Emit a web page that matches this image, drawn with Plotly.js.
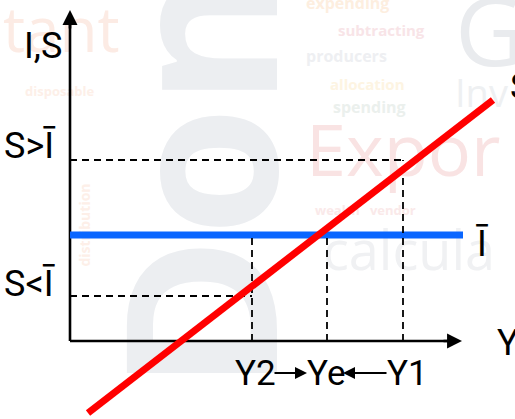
<!DOCTYPE html>
<html>
<head>
<meta charset="utf-8">
<script src="https://cdn.plot.ly/plotly-3.0.1.min.js"></script>
<style>
  html, body { margin: 0; padding: 0; background: #ffffff; }
  #chart { width: 515px; height: 419px; }
</style>
</head>
<body>
<div id="chart"></div>
<script>
// Saving–investment equilibrium: S = Ī determines equilibrium income Ye.

// Income levels marked on the horizontal axis
const incomeLabels = ['Y2', 'Ye', 'Y1'];
const incomeLevels = [182, 257, 333];

// Saving at the off-equilibrium incomes (Y2 -> S<Ī, Y1 -> S>Ī)
const savingLabels = ['S<Ī', 'S>Ī'];
const savingLevels = [45, 181];

// Autonomous investment Ī
const investment = 106;
const investmentSpan = [0, 393];

// Saving schedule end points (income, saving)
const savingIncome = [18, 423];
const savingValues = [-72, 241];

// Axis extents
const incomeAxisMax = 392;
const isAxisMax = 331;

const FIG_W = 515, FIG_H = 419;
const LABEL_FONT = '"Liberation Sans Narrow", "Arial Narrow", Roboto, sans-serif';
const WM_FONT = '"Open Sans", "DejaVu Sans", sans-serif';

// Axis lines (arrow heads added as annotations)
const axes = {
  x: [0, incomeAxisMax - 6, null, 0, 0],
  y: [0, 0, null, 0, isAxisMax - 6],
  mode: 'lines', line: { color: '#000', width: 2.6 }, hoverinfo: 'skip'
};

const investmentLine = {
  x: investmentSpan, y: [investment, investment],
  mode: 'lines', line: { color: '#0a66ff', width: 7 }, hoverinfo: 'skip'
};

// Dashed guides: Y1 up to S>Ī, Ye up to Ī, Y2 up to Ī and across at S<Ī
const gx = [], gy = [];
function seg(x0, y0, x1, y1) { gx.push(x0, x1, null); gy.push(y0, y1, null); }
seg(incomeLevels[2], 0, incomeLevels[2], savingLevels[1]);
seg(0, savingLevels[1], incomeLevels[2], savingLevels[1]);
seg(incomeLevels[1], 0, incomeLevels[1], investment);
seg(incomeLevels[0], 0, incomeLevels[0], investment);
seg(0, savingLevels[0], incomeLevels[0], savingLevels[0]);
const guides = {
  x: gx, y: gy, mode: 'lines',
  line: { color: '#000', width: 1.8, dash: '7px,5px' }, hoverinfo: 'skip'
};

const savingLine = {
  x: savingIncome, y: savingValues,
  mode: 'lines', line: { color: '#ff0000', width: 7 }, hoverinfo: 'skip'
};

function txt(text, x, y, opts) {
  return Object.assign({
    text: text, x: x, y: y, xref: 'x', yref: 'y', showarrow: false,
    xanchor: 'center', yanchor: 'middle',
    font: { family: LABEL_FONT, size: 35, color: '#000' }
  }, opts || {});
}
function arrow(x, y, ax, ay, w, s) {
  return {
    x: x, y: y, ax: ax, ay: ay, xref: 'x', yref: 'y', axref: 'x', ayref: 'y',
    text: '', showarrow: true, arrowhead: 2, arrowwidth: w, arrowsize: s,
    arrowcolor: '#000'
  };
}

const big = { family: LABEL_FONT, size: 36, color: '#000' };
const shifts = [3, -1, 4];
const annotations = [
  arrow(incomeAxisMax, 0, incomeAxisMax - 20, 0, 2.6, 1.15),
  arrow(0, isAxisMax, 0, isAxisMax - 20, 2.6, 1.15),
  txt('I,S', -6, 295, { xanchor: 'right', font: big }),
  txt(savingLabels[1], -13, savingLevels[1], { xanchor: 'right', yshift: 14, font: big }),
  txt(savingLabels[0], -13, savingLevels[0], { xanchor: 'right', yshift: 12, font: big }),
  txt('Ī', 412, investment, { yshift: -9, font: big }),
  txt('S', 438, 254, { xanchor: 'left', font: big }),
  txt('Y', 425, -2, { xanchor: 'left', font: big }),
  arrow(237, -32, 203, -32, 2, 1.2),
  arrow(273, -32, 318, -32, 2, 1.2)
];
incomeLabels.forEach(function (lab, i) {
  annotations.push(txt(lab, incomeLevels[i], -32, { xshift: shifts[i] }));
});

// Faint word-cloud backdrop, drawn beneath the chart lines
function wm(text, left, top, right, bottom, size, color, angle, pos, weight) {
  return {
    type: 'rect', xref: 'paper', yref: 'paper', layer: 'below',
    x0: left / FIG_W, x1: right / FIG_W, y0: 1 - bottom / FIG_H, y1: 1 - top / FIG_H,
    line: { width: 0 }, fillcolor: 'rgba(0,0,0,0)',
    label: {
      text: text, textangle: angle || 0, textposition: pos || 'middle left', padding: 0,
      font: { family: WM_FONT, size: size, color: color, weight: weight || 'normal' }
    }
  };
}
const backdrop = [
  wm('Don', 110, -60, 310, 420, 210, '#eceef1', -90, 'middle center', 'bold'),
  wm('tant', 0, 2, 200, 62, 62, '#fcebe4', 0, 'middle left', 'normal'),
  wm('Expor', 303, 118, 620, 188, 72, '#f9e3e3', 0, 'middle left', 'normal'),
  wm('calcula', 320, 228, 640, 278, 54, '#f0f1f3', 0, 'middle left', 'normal'),
  wm('G', 452, -10, 560, 80, 96, '#e9ebee', 0, 'middle left', 'normal'),
  wm('Inv', 452, 78, 560, 112, 38, '#eef0f2', 0, 'middle left', 'normal'),
  wm('expending', 303, -4, 420, 12, 16, '#fdeedf', 0, 'middle left', 'bold'),
  wm('subtracting', 335, 22, 460, 40, 15, '#f8e4e7', 0, 'middle left', 'bold'),
  wm('producers', 303, 48, 420, 66, 16, '#eeeff2', 0, 'middle left', 'bold'),
  wm('allocation', 327, 77, 450, 93, 15, '#fdf4e2', 0, 'middle left', 'bold'),
  wm('spending', 330, 99, 440, 117, 16, '#ebf0ed', 0, 'middle left', 'bold'),
  wm('disposable', 22, 84, 130, 100, 13, '#fdefe8', 0, 'middle left', 'bold'),
  wm('distribution', 72, 150, 98, 300, 14, '#fdefe8', -90, 'middle center', 'bold'),
  wm('wealth   vendor', 312, 203, 460, 219, 13, '#fae9e9', 0, 'middle left', 'bold')
];

const layout = {
  width: FIG_W, height: FIG_H,
  margin: { l: 0, r: 0, t: 0, b: 0 },
  paper_bgcolor: '#ffffff', plot_bgcolor: '#ffffff',
  showlegend: false,
  xaxis: { range: [-70, 445], visible: false, fixedrange: true },
  yaxis: { range: [-78, 341], visible: false, fixedrange: true },
  annotations: annotations,
  shapes: backdrop
};

Plotly.newPlot('chart', [axes, investmentLine, guides, savingLine], layout,
  { displayModeBar: false, staticPlot: true });
</script>
</body>
</html>
